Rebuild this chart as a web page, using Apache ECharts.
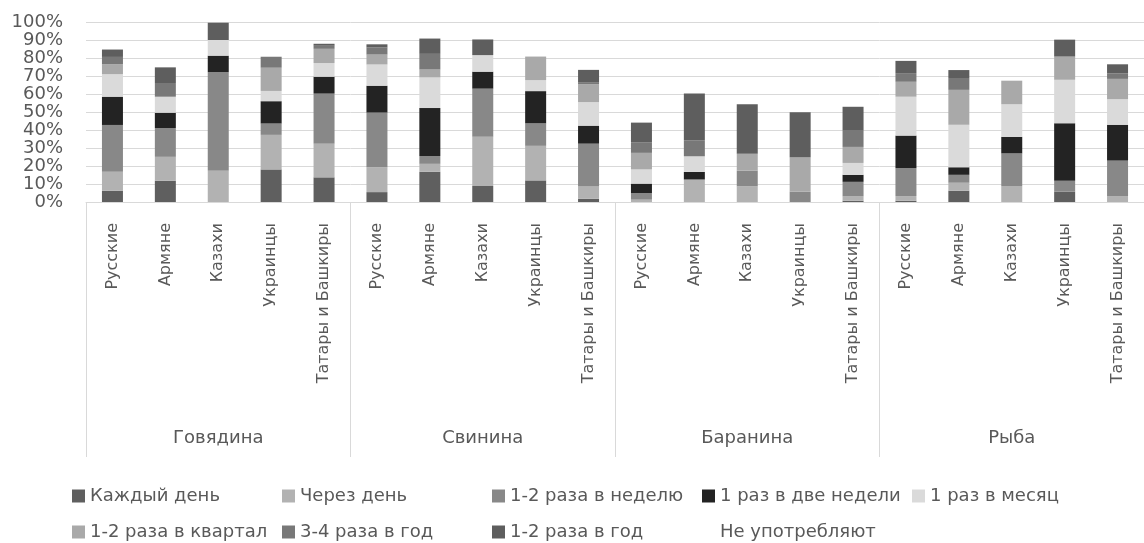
<!DOCTYPE html>
<html>
<head>
<meta charset="utf-8">
<script src="https://cdn.jsdelivr.net/npm/echarts@6/dist/echarts.min.js"></script>
<style>
html,body{margin:0;padding:0;background:#fff;}
#chart{width:1144px;height:543px;}
</style>
</head>
<body>
<div id="chart"></div>
<script>
const groups = ['Говядина', 'Свинина', 'Баранина', 'Рыба'];
const peoples = ['Русские', 'Армяне', 'Казахи', 'Украинцы', 'Татары и Башкиры'];
const categories = [].concat(peoples, peoples, peoples, peoples);
const yTicks = [0, 10, 20, 30, 40, 50, 60, 70, 80, 90, 100];

const seriesNames = ['Каждый день', 'Через день', '1-2 раза в неделю', '1 раз в две недели', '1 раз в месяц',
  '1-2 раза в квартал', '3-4 раза в год', '1-2 раза в год', 'Не употребляют'];

const everyDay      = [6.3, 11.8, 0, 18.1, 13.7, 5.5, 16.8, 8.9, 12.0, 1.8, 0, 0, 0, 0, 0.7, 0.7, 6.3, 0, 5.7, 0];
const everyOtherDay = [10.5, 13.3, 17.3, 19.2, 18.6, 13.8, 4.4, 27.3, 19.2, 7.0, 1.3, 12.5, 8.7, 0, 2.4, 2.6, 4.4, 8.9, 0, 3.1];
const weekly12      = [26.0, 16.0, 54.8, 6.3, 27.9, 30.4, 4.4, 26.8, 12.5, 23.6, 3.7, 0, 8.7, 5.7, 8.1, 15.5, 4.4, 18.1, 6.1, 19.9];
const biweekly      = [15.7, 8.5, 9.2, 12.4, 9.4, 14.9, 26.6, 9.4, 17.9, 10.0, 5.2, 4.2, 0, 0, 3.9, 18.1, 4.2, 9.2, 31.9, 19.9];
const monthly       = [12.5, 8.9, 8.7, 5.7, 7.6, 11.8, 17.0, 9.2, 6.1, 13.1, 7.9, 8.7, 0, 0, 6.6, 21.6, 23.6, 18.1, 24.2, 14.2];
const quarterly12   = [5.6, 0, 0, 12.9, 7.9, 5.5, 4.4, 0, 13.1, 10.0, 9.2, 0, 9.4, 19.2, 8.9, 8.3, 19.4, 13.1, 12.9, 11.3];
const yearly34      = [4.0, 7.6, 0, 6.1, 1.7, 3.9, 8.7, 0, 0, 1.1, 5.7, 8.9, 0, 0, 9.4, 4.8, 6.6, 0, 0, 3.1];
const yearly12      = [4.1, 8.7, 9.6, 0, 1.1, 1.8, 8.5, 8.7, 0, 6.8, 11.1, 26.0, 27.5, 24.9, 12.9, 6.8, 4.4, 0, 9.4, 5.0];
const never         = [15.3, 25.3, 0.4, 19.4, 12.2, 12.2, 9.2, 9.8, 19.2, 26.6, 55.9, 39.7, 45.8, 50.2, 47.0, 21.6, 26.6, 32.7, 9.8, 23.4];

const seriesData = [everyDay, everyOtherDay, weekly12, biweekly, monthly, quarterly12, yearly34, yearly12, never];
const colors = ['#5f5f5f', '#b2b2b2', '#888888', '#232323', '#dadada', '#a9a9a9', '#787878', '#5e5e5e', 'rgba(255,255,255,0)'];

const FONT = 'DejaVu Sans';
const TXT = '#595959';

const chart = echarts.init(document.getElementById('chart'), null, {renderer: 'canvas'});

const series = seriesNames.map((name, i) => ({
  name: name,
  type: 'bar',
  stack: 'total',
  xAxisIndex: 0,
  barWidth: 21,
  itemStyle: {color: colors[i]},
  emphasis: {disabled: true},
  data: seriesData[i]
}));

const legendCommon = {
  left: 67,
  itemWidth: 13,
  itemHeight: 13,
  itemGap: 0,
  icon: 'rect',
  selectedMode: false,
  textStyle: {fontFamily: FONT, fontSize: 18, color: TXT, width: 192, lineHeight: 20}
};

chart.setOption({
  animation: false,
  color: colors,
  grid: {left: 86, top: 22, height: 180, width: 1071, containLabel: false},
  legend: [
    Object.assign({}, legendCommon, {top: 481, data: seriesNames.slice(0, 5)}),
    Object.assign({}, legendCommon, {top: 517, data: seriesNames.slice(5)})
  ],
  xAxis: [
    {
      type: 'category',
      data: categories,
      axisLine: {show: true, lineStyle: {color: '#d9d9d9', width: 1}},
      axisTick: {show: false},
      axisLabel: {rotate: 90, margin: 21, interval: 0, fontFamily: FONT, fontSize: 16, color: TXT}
    },
    {
      type: 'category',
      data: groups,
      position: 'bottom',
      axisLine: {show: false},
      axisTick: {show: true, length: 255, lineStyle: {color: '#d9d9d9', width: 1}},
      axisLabel: {margin: 227, interval: 0, fontFamily: FONT, fontSize: 18, color: TXT}
    }
  ],
  yAxis: {
    type: 'value',
    min: yTicks[0],
    max: yTicks[yTicks.length - 1],
    interval: 10,
    axisLine: {show: false},
    axisTick: {show: false},
    splitLine: {lineStyle: {color: '#d9d9d9', width: 1}},
    axisLabel: {formatter: '{value}%', margin: 23, fontFamily: FONT, fontSize: 18, color: TXT}
  },
  series: series
});
</script>
</body>
</html>
